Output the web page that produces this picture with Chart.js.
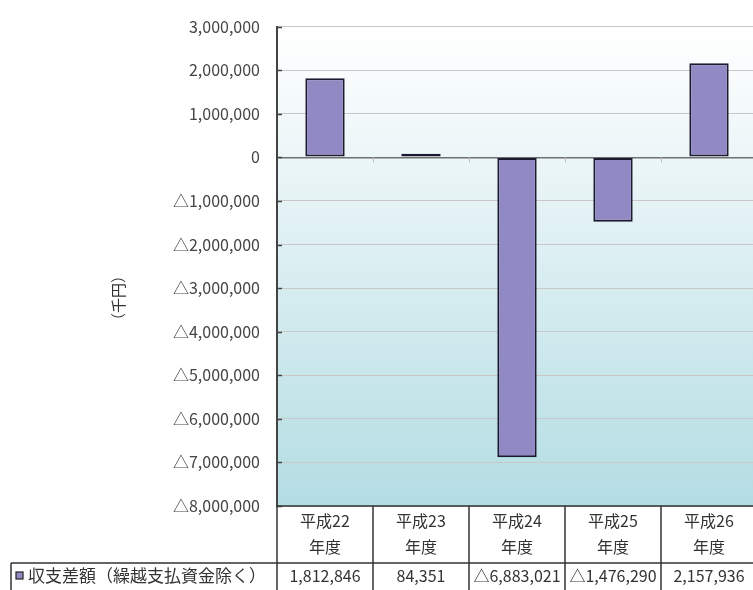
<!DOCTYPE html>
<html>
<head>
<meta charset="utf-8">
<script src="https://cdn.jsdelivr.net/npm/chart.js@4/dist/chart.umd.min.js"></script>
<style>
html,body{margin:0;padding:0;background:#fff;overflow:hidden;width:753px;height:590px;}
#wrap{position:absolute;left:0;top:0;width:757px;height:590px;}
</style>
</head>
<body>
<div id="wrap"><canvas id="c" width="757" height="590"></canvas></div>
<script>
const categories = [["平成22","年度"],["平成23","年度"],["平成24","年度"],["平成25","年度"],["平成26","年度"]];
const seriesName = "収支差額（繰越支払資金除く）";
const values = [1812846, 84351, -6883021, -1476290, 2157936];
const yMin = -8000000, yMax = 3000000, yStep = 1000000;
const yTitle = "（千円）";

const FONT = '"Noto Sans CJK JP","Noto Sans",sans-serif';
const fmt = v => (v < 0 ? "△" : "") + Math.abs(v).toLocaleString("en-US");

const bgPlugin = {
  id: 'bg',
  beforeDraw(chart) {
    const {ctx, chartArea: a} = chart;
    const g = ctx.createLinearGradient(0, a.top, 0, a.bottom);
    g.addColorStop(0, '#ffffff');
    g.addColorStop(0.3, '#eaf5f7');
    g.addColorStop(1, '#b3dde3');
    ctx.save();
    ctx.fillStyle = g;
    ctx.fillRect(a.left, a.top, a.right - a.left, a.bottom - a.top);
    ctx.restore();
  }
};

const tablePlugin = {
  id: 'table',
  afterDraw(chart) {
    const {ctx, chartArea: a} = chart;
    const xs = chart.scales.x, ys = chart.scales.y;
    const n = categories.length;
    const colW = (a.right - a.left) / n;
    const rowTop = a.bottom, rowMid = 563, rowBot = 590;
    ctx.save();
    // inner tick marks on y axis
    ctx.strokeStyle = '#444';
    ctx.lineWidth = 1.5;
    for (let v = yMin; v <= yMax; v += yStep) {
      const y = Math.round(ys.getPixelForValue(v)) + 0.5;
      ctx.beginPath(); ctx.moveTo(a.left, y); ctx.lineTo(a.left + 5, y); ctx.stroke();
    }
    // tick marks below zero line at category boundaries
    const y0 = ys.getPixelForValue(0);
    ctx.strokeStyle = '#bbb';
    ctx.lineWidth = 1;
    for (let i = 1; i < n; i++) {
      const x = Math.round(a.left + colW * i) + 0.5;
      ctx.beginPath(); ctx.moveTo(x, y0); ctx.lineTo(x, y0 + 5); ctx.stroke();
    }
    // table lines
    ctx.strokeStyle = '#333';
    ctx.lineWidth = 1.5;
    ctx.beginPath();
    ctx.moveTo(a.left, rowTop); ctx.lineTo(a.right, rowTop);
    ctx.moveTo(11, rowMid); ctx.lineTo(a.right, rowMid);
    ctx.moveTo(11, rowMid); ctx.lineTo(11, rowBot);
    for (let i = 0; i <= n; i++) {
      const x = a.left + colW * i;
      ctx.moveTo(x, rowTop); ctx.lineTo(x, rowBot);
    }
    ctx.stroke();
    // category labels
    ctx.fillStyle = '#333';
    ctx.textAlign = 'center';
    ctx.textBaseline = 'middle';
    ctx.font = '16px ' + FONT;
    for (let i = 0; i < n; i++) {
      const cx = xs.getPixelForValue(i);
      ctx.fillText(categories[i][0], cx, 521);
      ctx.fillText(categories[i][1], cx, 547);
      ctx.fillText(fmt(values[i]), cx, 576);
    }
    // legend cell
    ctx.fillStyle = '#9189c4';
    ctx.strokeStyle = '#222';
    ctx.lineWidth = 1.2;
    ctx.fillRect(16, 572, 7, 7);
    ctx.strokeRect(16, 572, 7, 7);
    ctx.fillStyle = '#333';
    ctx.textAlign = 'left';
    ctx.font = '17px ' + FONT;
    ctx.fillText(seriesName, 28, 576);
    // y title
    ctx.save();
    ctx.translate(118, 298);
    ctx.rotate(-Math.PI / 2);
    ctx.textAlign = 'center';
    ctx.font = '15px ' + FONT;
    ctx.fillText(yTitle, 0, 0);
    ctx.restore();
    ctx.restore();
  }
};

new Chart(document.getElementById('c'), {
  type: 'bar',
  data: {
    labels: categories.map(c => c.join('')),
    datasets: [{
      label: seriesName,
      data: values,
      backgroundColor: '#9189c4',
      borderColor: '#1c1a30',
      borderWidth: 2,
      borderSkipped: false,
      barPercentage: 0.41,
      categoryPercentage: 1.0
    }]
  },
  options: {
    responsive: false,
    animation: false,
    devicePixelRatio: 1,
    layout: { padding: { top: 25, bottom: 84, left: 0, right: 0 } },
    plugins: { legend: { display: false }, tooltip: { enabled: false } },
    scales: {
      x: { display: false, offset: true },
      y: {
        min: yMin, max: yMax,
        afterFit(s) { s.width = 277; },
        ticks: {
          stepSize: yStep,
          padding: 17,
          color: '#444',
          font: { family: FONT, size: 16 },
          callback: v => fmt(v)
        },
        grid: {
          drawTicks: false,
          color: ctx => ctx.tick && ctx.tick.value === 0 ? '#707070' : '#c8c8c8',
          lineWidth: ctx => ctx.tick && ctx.tick.value === 0 ? 1.5 : 1
        },
        border: { color: '#444', width: 2 }
      }
    }
  },
  plugins: [bgPlugin, tablePlugin]
});
</script>
</body>
</html>
